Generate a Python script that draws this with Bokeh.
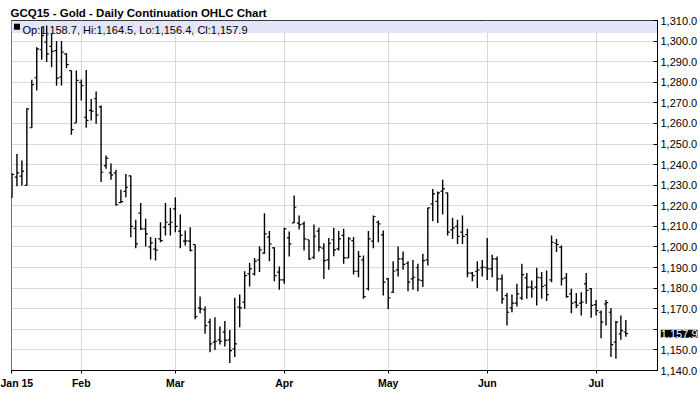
from bokeh.plotting import figure
from bokeh.models import Range1d, FixedTicker, NumeralTickFormatter, BoxAnnotation, Label, ColumnDataSource
from bokeh.embed import file_html
from bokeh.resources import INLINE

title_text = "GCQ15 - Gold - Daily Continuation OHLC Chart"
legend_text = "Op:1,158.7, Hi:1,164.5, Lo:1,156.4, Cl:1,157.9"
last_close = 1157.9
last_label = "1,157.9"

opens = [1224.2, 1233.9, 1234.4, 1229.9, 1257.9, 1282.2, 1295.8, 1299.5, 1297.4, 1295.4,
         1282.5, 1293.8, 1285.7, 1260.3, 1280.0, 1263.0, 1266.3, 1272.0, 1268.0, 1239.5,
         1236.0, 1236.0, 1221.5, 1227.0, 1234.5, 1209.0, 1216.4, 1208.8, 1200.0, 1199.0,
         1203.9, 1209.6, 1211.0, 1218.5, 1207.7, 1202.8, 1202.8, 1201.2, 1170.4, 1169.5,
         1163.5, 1153.8, 1154.9, 1158.6, 1154.9, 1150.5, 1170.8, 1173.2, 1186.9, 1186.9,
         1193.7, 1197.0, 1204.8, 1199.6, 1187.8, 1184.0, 1204.4, 1211.7, 1211.6, 1211.2,
         1203.5, 1195.0, 1207.7, 1199.4, 1193.7, 1203.5, 1199.1, 1205.6, 1194.7, 1203.1,
         1188.2, 1193.7, 1179.7, 1202.8, 1212.0, 1205.9, 1184.5, 1178.0, 1188.9, 1194.2,
         1192.1, 1184.5, 1189.9, 1183.7, 1193.7, 1220.9, 1222.1, 1227.1, 1226.3, 1208.3,
         1210.0, 1207.2, 1206.0, 1187.3, 1188.2, 1189.9, 1189.9, 1189.4, 1194.2, 1184.5,
         1176.4, 1170.4, 1172.7, 1175.3, 1185.0, 1180.5, 1180.5, 1185.0, 1181.3, 1184.0,
         1201.8, 1199.9, 1185.0, 1177.2, 1173.2, 1172.7, 1182.1, 1179.7, 1172.0, 1168.3,
         1172.3, 1168.3, 1153.8, 1157.8, 1158.7]
highs = [1235.8, 1245.2, 1242.0, 1267.4, 1281.2, 1297.0, 1307.0, 1307.6, 1303.5, 1300.0,
         1300.0, 1294.1, 1285.7, 1285.7, 1281.3, 1286.0, 1271.9, 1275.5, 1268.7, 1244.4,
         1240.5, 1237.5, 1227.8, 1235.5, 1234.7, 1213.2, 1221.3, 1213.7, 1204.8, 1204.4,
         1212.0, 1221.3, 1219.0, 1224.2, 1215.8, 1208.0, 1209.6, 1201.2, 1175.9, 1171.1,
         1165.1, 1165.9, 1161.4, 1164.0, 1159.7, 1175.3, 1176.9, 1188.2, 1192.3, 1194.7,
         1200.4, 1216.4, 1207.7, 1199.9, 1190.5, 1209.3, 1207.5, 1225.0, 1215.3, 1212.4,
         1203.5, 1210.9, 1209.3, 1201.8, 1204.4, 1209.3, 1207.7, 1208.8, 1204.8, 1204.8,
         1198.0, 1195.8, 1207.7, 1215.3, 1212.9, 1208.0, 1184.8, 1193.1, 1200.2, 1197.8,
         1193.1, 1193.7, 1191.8, 1196.7, 1219.0, 1228.2, 1226.9, 1232.6, 1226.3, 1214.1,
         1213.2, 1215.3, 1208.8, 1187.8, 1193.1, 1193.7, 1204.4, 1196.2, 1195.4, 1186.6,
         1177.6, 1176.9, 1182.1, 1191.8, 1187.3, 1183.7, 1189.9, 1187.8, 1188.6, 1205.6,
         1203.9, 1200.7, 1187.3, 1179.7, 1177.6, 1178.0, 1187.4, 1180.1, 1174.3, 1169.1,
         1174.3, 1170.4, 1164.0, 1166.7, 1164.5]
lows = [1223.9, 1229.5, 1229.9, 1229.9, 1257.9, 1276.0, 1290.9, 1289.8, 1287.3, 1278.3,
        1278.4, 1286.8, 1254.5, 1260.3, 1271.1, 1257.9, 1261.4, 1259.8, 1231.5, 1238.0,
        1232.6, 1220.1, 1221.4, 1224.2, 1204.7, 1199.4, 1208.3, 1200.2, 1193.9, 1193.4,
        1202.3, 1205.6, 1205.6, 1207.2, 1199.4, 1200.7, 1197.8, 1164.9, 1167.8, 1157.8,
        1148.9, 1150.0, 1152.6, 1151.6, 1143.7, 1146.5, 1161.0, 1170.0, 1180.8, 1186.1,
        1187.8, 1196.7, 1193.1, 1183.4, 1179.2, 1182.1, 1195.4, 1211.7, 1208.5, 1198.3,
        1193.7, 1194.2, 1197.8, 1184.5, 1188.9, 1195.5, 1198.3, 1191.8, 1194.7, 1186.6,
        1185.3, 1174.8, 1178.8, 1199.4, 1202.3, 1176.4, 1169.9, 1177.6, 1185.6, 1188.9,
        1178.5, 1179.2, 1178.5, 1180.5, 1191.0, 1212.5, 1211.6, 1215.8, 1205.6, 1203.9,
        1201.5, 1201.5, 1185.3, 1183.4, 1180.1, 1185.6, 1184.0, 1185.3, 1178.5, 1172.4,
        1161.8, 1168.3, 1171.1, 1174.3, 1174.8, 1175.3, 1171.6, 1174.8, 1173.7, 1182.9,
        1197.5, 1181.3, 1175.3, 1167.8, 1170.4, 1166.7, 1172.4, 1165.6, 1166.7, 1155.7,
        1161.8, 1146.5, 1145.7, 1154.9, 1156.4]
closes = [1235.2, 1236.0, 1236.8, 1267.1, 1278.9, 1296.2, 1302.7, 1293.8, 1295.0, 1282.0,
          1294.6, 1288.6, 1257.0, 1280.9, 1278.4, 1261.5, 1266.0, 1264.2, 1236.3, 1243.0,
          1235.0, 1220.5, 1222.0, 1229.0, 1210.0, 1201.5, 1208.8, 1206.4, 1202.0, 1198.5,
          1203.1, 1212.0, 1212.0, 1210.0, 1205.6, 1203.0, 1198.3, 1166.2, 1169.9, 1161.8,
          1152.9, 1154.2, 1154.2, 1154.6, 1149.7, 1152.9, 1170.4, 1186.1, 1189.4, 1193.1,
          1198.6, 1206.4, 1201.5, 1186.1, 1184.0, 1208.8, 1201.5, 1219.3, 1210.9, 1203.9,
          1194.2, 1205.2, 1199.9, 1193.4, 1201.8, 1198.6, 1203.9, 1194.7, 1203.9, 1188.2,
          1195.4, 1175.9, 1203.9, 1214.8, 1211.2, 1182.9, 1175.3, 1188.2, 1194.2, 1191.5,
          1182.9, 1185.3, 1184.0, 1193.4, 1219.0, 1225.8, 1226.3, 1228.2, 1207.2, 1209.3,
          1205.1, 1205.1, 1187.3, 1186.1, 1188.9, 1190.2, 1189.4, 1194.2, 1184.5, 1174.8,
          1168.3, 1172.7, 1177.2, 1186.6, 1180.5, 1179.7, 1185.3, 1180.8, 1176.9, 1202.3,
          1201.2, 1184.5, 1175.9, 1172.7, 1171.6, 1173.2, 1178.9, 1171.6, 1169.1, 1163.5,
          1173.0, 1152.6, 1163.5, 1159.4, 1157.9]

month_idx = [0, 14, 33, 55, 76, 96, 118]
month_labels = ["Jan 15", "Feb", "Mar", "Apr", "May", "Jun", "Jul"]
y_ticks = list(range(1140, 1311, 10))

FONT = "Liberation Sans"
X0, X1 = -0.1, 130.4
Y0, Y1 = 1140, 1310
FW, FH = 647, 350
pxx = (X1 - X0) / FW
pxy = (Y1 - Y0) / FH

idx = list(range(len(opens)))
src = ColumnDataSource(dict(
    x=idx, o=opens, h=highs, l=lows, c=closes,
    xl=[i - 0.45 for i in idx], xr=[i + 0.45 for i in idx],
))

p = figure(width=700, height=411, output_backend="svg", toolbar_location=None,
           x_range=Range1d(X0, X1), y_range=Range1d(Y0, Y1),
           y_axis_location="right", min_border_left=11, min_border_right=42,
           min_border_top=20, min_border_bottom=41)
p.background_fill_color = "white"
p.border_fill_color = "white"
p.outline_line_color = "black"
p.outline_line_width = 1
p.outline_line_alpha = 1

# title
p.title.text = title_text
p.title.text_font = FONT
p.title.text_font_size = "11.5px"
p.title.text_font_style = "bold"
p.title.text_color = "black"
p.title.align = "left"
p.title.standoff = 3
p.title.offset = -1

# header band
p.add_layout(BoxAnnotation(bottom=Y1 - 12.5 * pxy, top=Y1, fill_color="#e4e4fa",
                           fill_alpha=1, line_color=None, level="underlay"))

p.segment(x0="x", y0="l", x1="x", y1="h", source=src, line_color="black", line_width=1.4)
p.segment(x0="xl", y0="o", x1="x", y1="o", source=src, line_color="black", line_width=1.2)
p.segment(x0="x", y0="c", x1="xr", y1="c", source=src, line_color="black", line_width=1.2)

# x axis
xa = p.xaxis[0]
xa.ticker = FixedTicker(ticks=month_idx)
xa.major_label_overrides = {i: s for i, s in zip(month_idx, month_labels)}
xa.major_label_text_font = FONT
xa.major_label_text_font_style = "bold"
xa.major_label_text_font_size = "10.5px"
xa.major_label_text_color = "black"
xa.major_tick_in = 0
xa.major_tick_out = 3
xa.minor_tick_line_color = None
xa.axis_line_color = "black"
xa.major_tick_line_color = "black"
xa.major_label_standoff = 3

# y axis (right)
ya = p.yaxis[0]
ya.ticker = FixedTicker(ticks=y_ticks)
ya.formatter = NumeralTickFormatter(format="0,0.0")
ya.major_label_overrides = {1160: ""}
ya.major_label_text_font = FONT
ya.major_label_text_font_size = "11px"
ya.major_label_text_color = "black"
ya.major_tick_in = 4
ya.major_tick_out = 0
ya.minor_tick_line_color = None
ya.axis_line_color = "black"
ya.major_tick_line_color = "black"
ya.major_label_standoff = 3

p.xgrid.grid_line_color = "#d9d9d9"
p.ygrid.grid_line_color = "#d9d9d9"
p.xgrid.grid_line_width = 1
p.ygrid.grid_line_width = 1

# legend square + text
p.add_layout(BoxAnnotation(left=X0 + 2.5 * pxx, right=X0 + 8.5 * pxx,
                           top=Y1 - 3.3 * pxy, bottom=Y1 - 9.3 * pxy,
                           fill_color="black", fill_alpha=1, line_color=None))
p.add_layout(Label(x=X0 + 11 * pxx, y=Y1 - 9.6 * pxy, text=legend_text,
                   text_font=FONT, text_font_size="11px", text_color="black",
                   text_baseline="alphabetic", text_align="left"))

# last price marker: placed in the (roomy) bottom panel so it is not clipped to
# the frame; its position still comes from the data scales.
p.add_layout(Label(x=X1 + 3.3 * pxx, y=last_close, text=last_label,
                   text_font=FONT, text_font_size="11px", text_color="white",
                   text_baseline="middle", text_align="left",
                   background_fill_color="black", background_fill_alpha=1), "below")

open("out.html", "w").write(file_html(p, INLINE))
